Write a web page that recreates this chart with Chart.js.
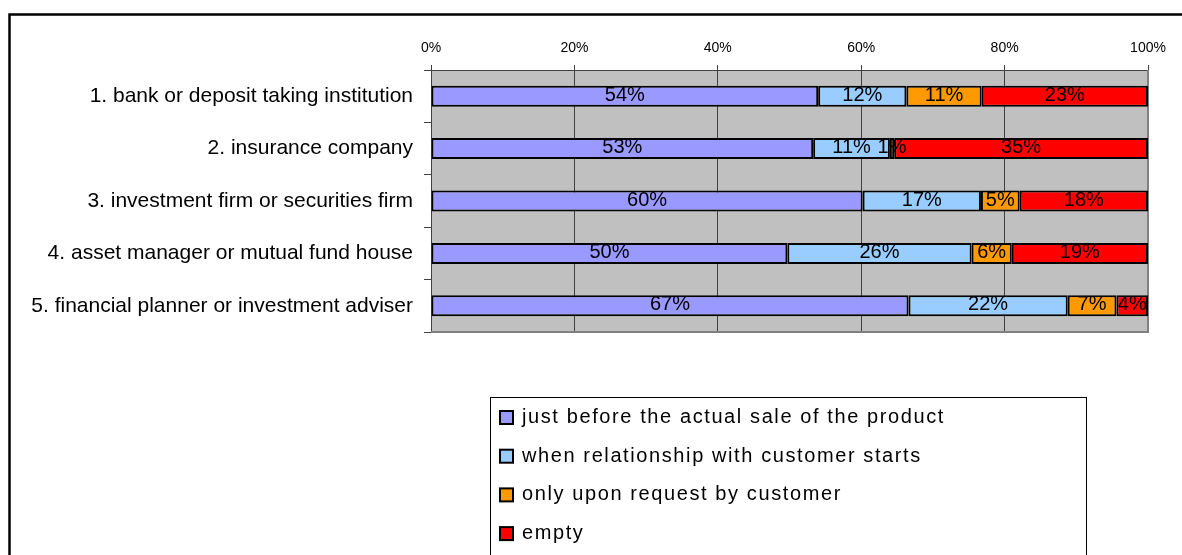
<!DOCTYPE html>
<html>
<head>
<meta charset="utf-8">
<script src="https://cdn.jsdelivr.net/npm/chart.js@4/dist/chart.umd.min.js"></script>
<style>
  body { margin: 0; background: #fff; }
  #wrap { position: relative; width: 1182px; height: 555px; }
</style>
</head>
<body>
<div id="wrap"><canvas id="chart"></canvas></div>
<script>
// categories and series (percent of respondents)
const categories = [
  "1. bank or deposit taking institution",
  "2. insurance company",
  "3. investment firm or securities firm",
  "4. asset manager or mutual fund house",
  "5. financial planner or investment adviser"
];
const seriesNames = [
  "just before the actual sale of the product",
  "when relationship with customer starts",
  "only upon request by customer",
  "empty"
];
const justBefore = [54.0, 53.3, 60.2, 49.7, 66.6];
const relationStart = [12.3, 10.7, 16.5, 25.7, 22.2];
const onRequest = [10.5, 0.6, 5.4, 5.6, 6.8];
const emptyAnswer = [23.2, 35.4, 17.9, 19.0, 4.4];
const xTicks = [0, 20, 40, 60, 80, 100];

const colors = ["#9999ff", "#99ccff", "#ff9900", "#ff0000"];
const FONT = '"Liberation Sans", Arial, sans-serif';

// outer frame + grey plot area
const backdrop = {
  id: "backdrop",
  beforeDraw(chart) {
    const ctx = chart.ctx;
    const a = chart.chartArea;
    ctx.save();
    ctx.fillStyle = "#c0c0c0";
    ctx.fillRect(a.left, a.top, a.right - a.left, a.bottom - a.top);
    ctx.strokeStyle = "#000";
    ctx.lineWidth = 2.5;
    ctx.strokeRect(9.5, 14.5, 1300, 700);
    ctx.restore();
  },
  beforeDatasetsDraw(chart) {
    const ctx = chart.ctx;
    const a = chart.chartArea;
    ctx.save();
    ctx.strokeStyle = "#808080";
    ctx.lineWidth = 2;
    ctx.beginPath();
    ctx.moveTo(a.right, a.top);
    ctx.lineTo(a.right, a.bottom);
    ctx.lineTo(a.left, a.bottom);
    ctx.stroke();
    ctx.restore();
  }
};

// value labels inside the bar segments
const segmentLabels = {
  id: "segmentLabels",
  afterDatasetsDraw(chart) {
    const ctx = chart.ctx;
    ctx.save();
    ctx.font = "20px " + FONT;
    ctx.fillStyle = "#000";
    ctx.textAlign = "center";
    ctx.textBaseline = "middle";
    chart.data.datasets.forEach((ds, i) => {
      const meta = chart.getDatasetMeta(i);
      meta.data.forEach((bar, j) => {
        const p = bar.getProps(["x", "y", "base"], true);
        ctx.fillText(Math.round(ds.data[j]) + "%", (p.x + p.base) / 2, p.y - 1);
      });
    });
    ctx.restore();
  }
};

// boxed legend under the plot
const boxLegend = {
  id: "boxLegend",
  afterDraw(chart) {
    const ctx = chart.ctx;
    ctx.save();
    ctx.strokeStyle = "#000";
    ctx.lineWidth = 1;
    ctx.strokeRect(490.5, 397.5, 596, 300);
    ctx.font = "20px " + FONT;
    ctx.letterSpacing = "1.6px";
    ctx.textAlign = "left";
    ctx.textBaseline = "middle";
    chart.data.datasets.forEach((ds, i) => {
      const cy = 417.5 + i * 38.7;
      ctx.fillStyle = ds.backgroundColor;
      ctx.fillRect(500, cy - 6.5, 13, 13);
      ctx.lineWidth = 2;
      ctx.strokeRect(500, cy - 6.5, 13, 13);
      ctx.fillStyle = "#000";
      ctx.fillText(ds.label, 522, cy);
    });
    ctx.restore();
  }
};

const seriesData = [justBefore, relationStart, onRequest, emptyAnswer];

new Chart(document.getElementById("chart"), {
  type: "bar",
  data: {
    labels: categories,
    datasets: seriesData.map((d, i) => ({
      label: seriesNames[i],
      data: d,
      backgroundColor: colors[i],
      borderColor: "#000",
      borderWidth: 2,
      borderSkipped: false,
      barPercentage: 0.4,
      categoryPercentage: 1.0
    }))
  },
  options: {
    indexAxis: "y",
    responsive: true,
    maintainAspectRatio: false,
    animation: false,
    layout: { padding: { left: 0, top: 0, right: 34, bottom: 223 } },
    plugins: {
      legend: { display: false },
      tooltip: { enabled: false }
    },
    scales: {
      x: {
        position: "top",
        stacked: true,
        min: 0,
        max: 100,
        afterBuildTicks: (scale) => {
          scale.ticks = xTicks.map((v) => ({ value: v }));
        },
        afterFit: (scale) => { scale.height = 70; },
        ticks: {
          callback: (v) => v + "%",
          color: "#000",
          font: { family: FONT, size: 14 },
          padding: 8,
          maxRotation: 0
        },
        grid: { color: "#404040", lineWidth: 1, tickLength: 5 },
        border: { color: "#404040", width: 1 }
      },
      y: {
        stacked: true,
        afterFit: (scale) => { scale.width = 431; },
        ticks: {
          color: "#000",
          font: { family: FONT, size: 21 },
          padding: 11
        },
        grid: {
          offset: true,
          drawOnChartArea: false,
          color: "#404040",
          tickLength: 7
        },
        border: { color: "#404040", width: 1 }
      }
    }
  },
  plugins: [backdrop, segmentLabels, boxLegend]
});
</script>
</body>
</html>
